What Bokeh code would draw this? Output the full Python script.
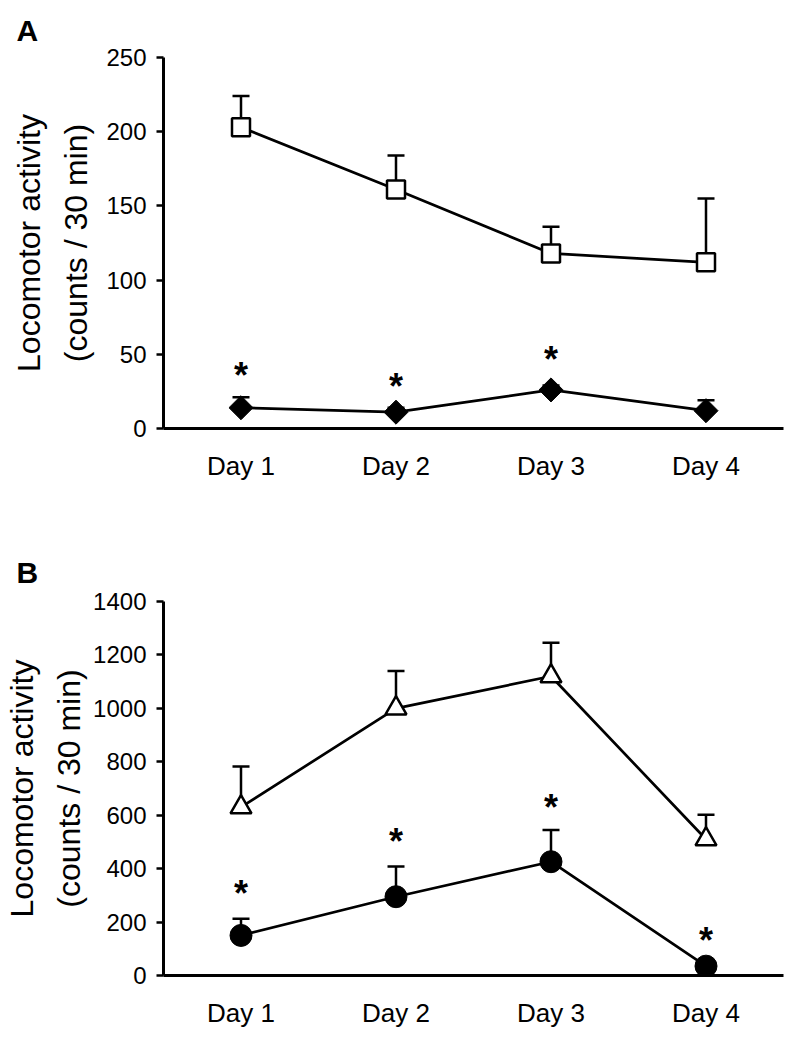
import math
from bokeh.plotting import figure
from bokeh.models import ColumnDataSource, Whisker, TeeHead, Title, FixedTicker, Range1d
from bokeh.layouts import column
from bokeh.embed import file_html
from bokeh.resources import INLINE
from bokeh.core.properties import value

# ---------------- data ----------------
days = ["Day 1", "Day 2", "Day 3", "Day 4"]
day_pos = [1, 2, 3, 4]

a_open_mean = [203, 161, 118, 112]
a_open_sem = [21, 23, 18, 43]
a_filled_mean = [14, 11, 26, 12]
a_filled_sem = [7, 3, 3, 7]
a_star_y = [41, 33.5, 52, None]

b_open_mean = [630, 1000, 1120, 510]
b_open_sem = [152, 140, 126, 92]
b_filled_mean = [150, 295, 426, 35]
b_filled_sem = [62, 113, 119, 0]
b_star_y = [336, 530, 657, 162]

y_label = "Locomotor activity\n(counts / 30 min)"

FONT = "Liberation Sans"


def make_panel(letter, ymax, ystep, open_mean, open_sem, open_style,
               filled_mean, filled_sem, filled_style, star_y,
               height, borders, label_standoff, title_standoff):
    bl, br, bt, bb = borders
    p = figure(width=800, height=height, output_backend="svg",
               toolbar_location=None, x_range=Range1d(0.5, 4.5),
               y_range=Range1d(0, ymax),
               min_border_left=bl, min_border_right=br,
               min_border_top=bt, min_border_bottom=bb)
    p.outline_line_color = None
    p.xgrid.visible = False
    p.ygrid.visible = False
    p.background_fill_color = "white"

    # panel letter
    p.title = Title(text=letter, align="left", offset=-147,
                    text_font=FONT, text_font_style="bold",
                    text_font_size="30px", text_color="black",
                    standoff=title_standoff)

    # axes
    p.yaxis.ticker = FixedTicker(ticks=list(range(0, ymax + 1, ystep)))
    p.yaxis.major_tick_out = 7
    p.yaxis.major_tick_in = 0
    p.yaxis.minor_tick_out = 0
    p.yaxis.minor_tick_in = 0
    p.yaxis.axis_line_width = 3
    p.yaxis.major_tick_line_width = 2.5
    p.yaxis.major_label_text_font = FONT
    p.yaxis.major_label_text_font_size = "24px"
    p.yaxis.major_label_text_color = "black"
    p.yaxis.major_label_standoff = 10
    p.yaxis.axis_label = y_label
    p.yaxis.axis_label_text_font = FONT
    p.yaxis.axis_label_text_font_size = "32px"
    p.yaxis.axis_label_text_font_style = "normal"
    p.yaxis.axis_label_text_color = "black"
    p.yaxis.axis_label_text_line_height = 1.32
    p.yaxis.axis_label_text_align = "center"
    p.yaxis.axis_label_standoff = label_standoff

    p.xaxis.ticker = FixedTicker(ticks=day_pos)
    p.xaxis.major_label_overrides = {k: d for k, d in zip(day_pos, days)}
    p.xaxis.major_tick_out = 0
    p.xaxis.major_tick_in = 0
    p.xaxis.minor_tick_out = 0
    p.xaxis.minor_tick_in = 0
    p.xaxis.axis_line_width = 3
    p.xaxis.major_label_text_font = FONT
    p.xaxis.major_label_text_font_size = "26px"
    p.xaxis.major_label_text_color = "black"
    p.xaxis.major_label_standoff = 22

    # series
    for mean, sem, style in ((open_mean, open_sem, open_style),
                             (filled_mean, filled_sem, filled_style)):
        src = ColumnDataSource(dict(
            x=day_pos, y=mean, top=[m + s for m, s in zip(mean, sem)]))
        w = Whisker(base="x", lower="y", upper="top", source=src,
                    line_color="black", line_width=2.5, level="underlay",
                    upper_head=TeeHead(size=17, line_width=2.5, line_color="black"),
                    lower_head=None)
        p.add_layout(w)
        p.line("x", "y", source=src, line_color="black", line_width=2.7)
        p.scatter("x", "y", source=src, **style)

    # significance stars
    sx = [x for x, s in zip(day_pos, star_y) if s is not None]
    sy = [s for s in star_y if s is not None]
    p.text(x=sx, y=sy, text=["*"] * len(sx), text_align="center",
           text_baseline="middle", y_offset=8,
           text_font=value(FONT), text_font_style="bold",
           text_font_size="36px", text_color="black")
    return p


open_sq = dict(marker="square", size=18, fill_color="white",
               line_color="black", line_width=2.5)
filled_dia = dict(marker="square", size=17, angle=math.pi / 4,
                  fill_color="black", line_color="black", line_width=1)
open_tri = dict(marker="triangle", size=21, fill_color="white",
                line_color="black", line_width=2.5)
filled_circ = dict(marker="circle", size=22, fill_color="black",
                   line_color="black", line_width=1)

pA = make_panel("A", 250, 50, a_open_mean, a_open_sem, open_sq,
                a_filled_mean, a_filled_sem, filled_dia, a_star_y,
                height=540, borders=(162, 17, 57, 112), label_standoff=9,
                title_standoff=21)
pB = make_panel("B", 1400, 200, b_open_mean, b_open_sem, open_tri,
                b_filled_mean, b_filled_sem, filled_circ, b_star_y,
                height=500, borders=(162, 11, 53, 65), label_standoff=3,
                title_standoff=26)

layout = column(pA, pB, spacing=0)
open("out.html", "w").write(file_html(layout, INLINE))
